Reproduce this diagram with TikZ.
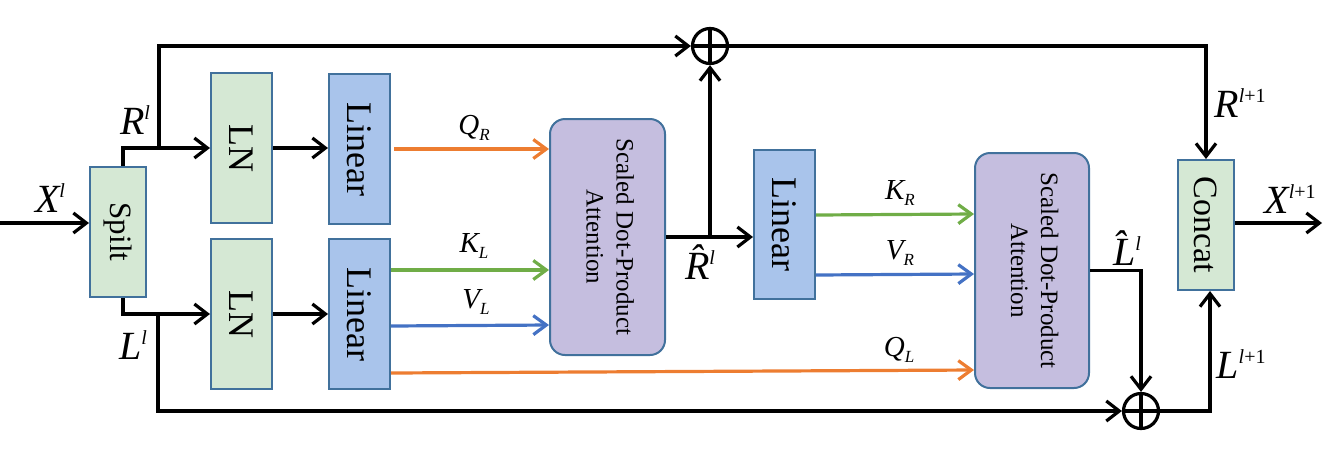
\documentclass[tikz,border=0pt]{standalone}
\usepackage{fontspec}
\setmainfont{Liberation Serif}
\usetikzlibrary{arrows.meta,calc}
\definecolor{bd}{HTML}{41719C}
\definecolor{gfill}{HTML}{D5E8D4}
\definecolor{bfill}{HTML}{A9C4EB}
\definecolor{pfill}{HTML}{C5BEDF}
\definecolor{orng}{HTML}{ED7D31}
\definecolor{grn}{HTML}{70AD47}
\definecolor{blu}{HTML}{4472C4}
\newcommand{\BL}[2]{{\fontsize{40}{44}\selectfont\itshape #1\raisebox{15pt}{\fontsize{20}{20}\selectfont #2}}}
\newcommand{\SL}[2]{{\fontsize{29}{32}\selectfont\itshape #1\raisebox{-6pt}{\fontsize{17}{17}\selectfont #2}}}
\tikzset{
  box/.style={draw=bd, line width=2pt, inner sep=0pt, font=\fontsize{36}{40}\selectfont},
  gbox/.style={box, fill=gfill},
  bbox/.style={box, fill=bfill},
  pbox/.style={box, fill=pfill, rounded corners=15pt, font=\fontsize{25}{30}\selectfont},
  arr/.style={line width=3.2pt, -{Straight Barb[length=13pt,width=20pt,line width=3.2pt]}},
  carr/.style={line width=3.2pt, draw=#1, -{Straight Barb[length=13pt,width=19pt,line width=3.2pt]}},
  plusn/.style={circle, draw, line width=3.2pt, minimum size=35pt, inner sep=0pt,
    path picture={\draw[line width=3.2pt] (path picture bounding box.north) -- (path picture bounding box.south) (path picture bounding box.west) -- (path picture bounding box.east);}},
  lab/.style={inner sep=0pt}
}
\begin{document}
\begin{tikzpicture}[x=1pt,y=-1pt]
\useasboundingbox (0,0) rectangle (1332,459);
% boxes
\node[gbox, minimum width=56pt, minimum height=130pt, font=\fontsize{31}{34}\selectfont] (spilt) at (118,232) {\rotatebox{-90}{Spilt}};
\node[gbox, minimum width=61pt, minimum height=150pt] (ln1) at (241.5,148) {\rotatebox{-90}{LN}};
\node[gbox, minimum width=61pt, minimum height=150pt] (ln2) at (241.5,314) {\rotatebox{-90}{LN}};
\node[bbox, minimum width=61pt, minimum height=150pt] (lin1) at (359.5,149) {\rotatebox{-90}{Linear}};
\node[bbox, minimum width=61pt, minimum height=150pt] (lin2) at (359.5,314) {\rotatebox{-90}{Linear}};
\node[pbox, minimum width=115pt, minimum height=236pt] (sdpa1) at (607.5,237) {\rotatebox{-90}{\begin{tabular}{@{}c@{}}Scaled Dot-Product\\Attention\end{tabular}}};
\node[bbox, minimum width=61pt, minimum height=149pt] (lin3) at (784.5,224.5) {\rotatebox{-90}{Linear}};
\node[pbox, minimum width=114pt, minimum height=235pt] (sdpa2) at (1032,270.5) {\rotatebox{-90}{\begin{tabular}{@{}c@{}}Scaled Dot-Product\\Attention\end{tabular}}};
\node[gbox, minimum width=56pt, minimum height=130pt, font=\fontsize{34}{38}\selectfont] (concat) at (1206,225) {\rotatebox{-90}{Concat}};
\node[plusn] (plus1) at (710,46) {};
\node[plusn] (plus2) at (1141,411) {};
% coordinates
\coordinate (in) at (0,223);
\coordinate (out) at (1322,223);
\coordinate (b1) at (159,148);
\coordinate (b2) at (158,313);
\coordinate (b3) at (710,237);
% connectors
\draw[arr] (in) -- (in -| spilt.west);
\draw[arr] ([xshift=5pt]spilt.north) |- (ln1.west);
\draw[arr] ([xshift=5pt]spilt.south) |- (ln2.west);
\draw[arr] (b1) |- (plus1.west);
\draw[arr] (b2) |- (plus2.west);
\draw[arr] (ln1.east) -- (ln1.east -| lin1.west);
\draw[arr] (ln2.east) -- (ln2.east -| lin2.west);
\draw[carr=orng] ([xshift=3pt]lin1.east) -- (lin1.east -| sdpa1.west);
\draw[carr=grn] (lin2.east |- 0,270) -- (sdpa1.west |- 0,270);
\draw[carr=blu] (lin2.east |- 0,326) -- (sdpa1.west |- 0,325);
\draw[carr=orng] (lin2.east |- 0,373) -- (sdpa2.west |- 0,370);
\draw[carr=grn] (lin3.east |- 0,215) -- (sdpa2.west |- 0,214);
\draw[carr=blu] (lin3.east |- 0,275) -- (sdpa2.west |- 0,274);
\draw[arr] (sdpa1.east) -- (sdpa1.east -| lin3.west);
\draw[arr] (b3) -- (plus1.south);
\draw[arr] (sdpa2.east) -| (plus2.north);
\draw[arr] (plus1.east) -| (concat.north);
\draw[arr] (plus2.east) -| ([xshift=4pt]concat.south);
\draw[arr] (concat.east |- out) -- (out);
% labels
\node[lab] (lXl) at (50,198) {\BL{X}{l}};
\node[lab] (lRl) at (135,120) {\BL{R}{l}};
\node[lab] (lLl) at (133,345) {\BL{L}{l}};
\node[lab] (lQR) at (474,128) {\SL{Q}{R}};
\node[lab] (lKL) at (474,246) {\SL{K}{L}};
\node[lab] (lVL) at (476,302) {\SL{V}{L}};
\node[lab] (lKR) at (900,193) {\SL{K}{R}};
\node[lab] (lVR) at (900,253) {\SL{V}{R}};
\node[lab] (lQL) at (899,350) {\SL{Q}{L}};
\node[lab] (lRh) at (700,262) {\BL{\^{R}}{l}};
\node[lab] (lLh) at (1127,248) {\BL{\^{L}}{l}};
\node[lab] (lR1) at (1240,103) {\BL{R}{l\upshape+1}};
\node[lab] (lX1) at (1290,199) {\BL{X}{l\upshape+1}};
\node[lab] (lL1) at (1241,364) {\BL{L}{l\upshape+1}};
\end{tikzpicture}
\end{document}
